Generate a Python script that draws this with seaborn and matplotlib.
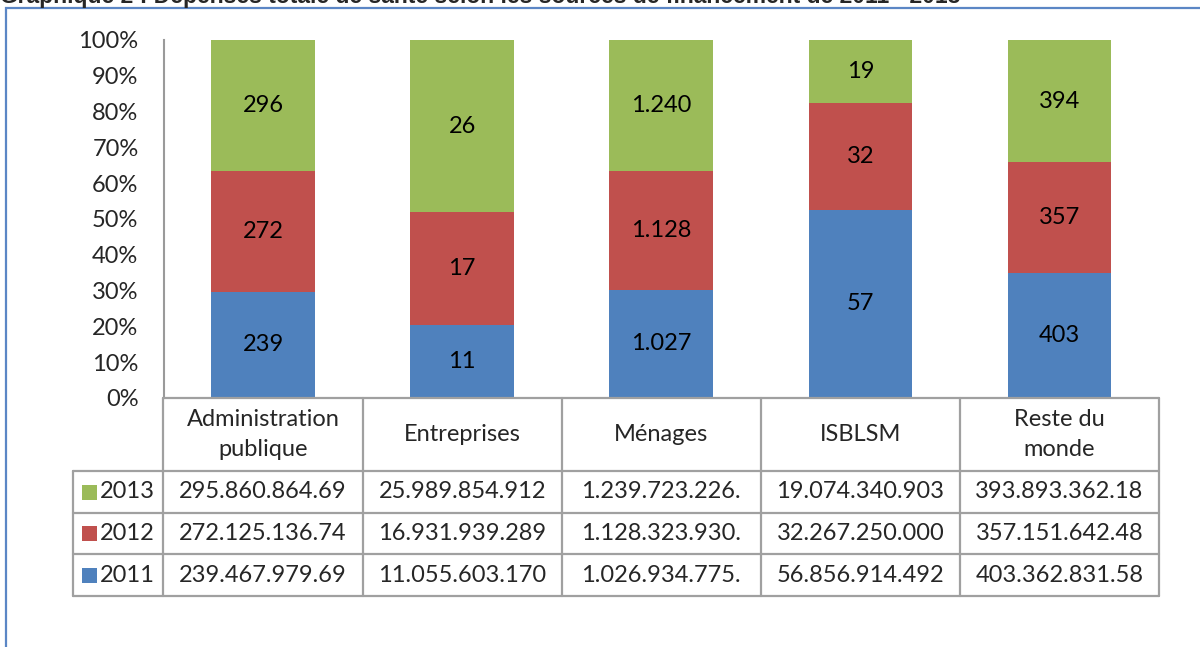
import pandas as pd
import seaborn as sns
import matplotlib.pyplot as plt
from matplotlib.patches import Rectangle

# Sources of financing (table header) and the three years
categories = ['Administration\npublique', 'Entreprises', 'Ménages', 'ISBLSM', 'Reste du\nmonde']
bar_labels_2011 = ['239', '11', '1.027', '57', '403']
bar_labels_2012 = ['272', '17', '1.128', '32', '357']
bar_labels_2013 = ['296', '26', '1.240', '19', '394']

# Values (leading groups of the table figures)
values_2011 = [239.468, 11.056, 1026.935, 56.857, 403.363]
values_2012 = [272.125, 16.932, 1128.324, 32.267, 357.152]
values_2013 = [295.861, 25.990, 1239.723, 19.074, 393.893]

# Data table texts as printed
table_2013 = ['295.860.864.69', '25.989.854.912', '1.239.723.226.', '19.074.340.903', '393.893.362.18']
table_2012 = ['272.125.136.74', '16.931.939.289', '1.128.323.930.', '32.267.250.000', '357.151.642.48']
table_2011 = ['239.467.979.69', '11.055.603.170', '1.026.934.775.', '56.856.914.492', '403.362.831.58']

colors = {'2011': '#4F81BD', '2012': '#C0504D', '2013': '#9BBB59'}

df = pd.DataFrame({'cat': categories, '2011': values_2011, '2012': values_2012, '2013': values_2013})
total = df[['2011', '2012', '2013']].sum(axis=1)
df['p2011'] = df['2011'] / total * 100
df['p2012'] = df['2012'] / total * 100
df['p2013'] = df['2013'] / total * 100
df['c2011'] = df['p2011']
df['c2012'] = df['p2011'] + df['p2012']
df['c2013'] = df['c2012'] + df['p2013']

sns.set_theme(style='white')
plt.rcParams['font.family'] = ['Lato', 'DejaVu Sans']
FS = 17

W, H = 1200, 647
fig = plt.figure(figsize=(W / 100, H / 100), dpi=100)

# outer frame and title (cut off at the top edge, as in the source)
fig.patches.append(Rectangle((6 / W, -0.1), 1.2, 1 - 8 / H + 0.1, transform=fig.transFigure,
                             fill=False, edgecolor='#5B86C5', linewidth=1.6))
fig.text(0.0, 1 - 3.5 / H, 'Graphique 2 : Dépenses totale de santé selon les sources de financement de 2011 - 2013',
         fontsize=16.5, fontweight='bold', family='Liberation Sans', va='baseline', ha='left')

ax_left, ax_right, ax_top, ax_bot = 163.5, 1159, 40, 398
ax = fig.add_axes([ax_left / W, 1 - ax_bot / H, (ax_right - ax_left) / W, (ax_bot - ax_top) / H])

# stacked bars: draw cumulative heights from the top down
for yr in ['2013', '2012', '2011']:
    sns.barplot(data=df, x='cat', y='c' + yr, color=colors[yr], saturation=1, width=0.52,
                linewidth=0, ax=ax)

labels = {'2011': bar_labels_2011, '2012': bar_labels_2012, '2013': bar_labels_2013}
for i in range(len(categories)):
    bottom = 0
    for yr in ['2011', '2012', '2013']:
        h = df.loc[i, 'p' + yr]
        ax.text(i, bottom + h / 2, labels[yr][i], ha='center', va='center', fontsize=FS, color='black')
        bottom += h

ax.set_xlim(-0.5, len(categories) - 0.5)
ax.set_ylim(0, 100)
ax.set_yticks(range(0, 101, 10))
ax.set_yticklabels([f'{t}%' for t in range(0, 101, 10)], fontsize=FS)
ax.set_xticks([])
ax.set_xlabel('')
ax.set_ylabel('')
ax.tick_params(axis='y', length=0, pad=18)
for s in ['top', 'right', 'bottom']:
    ax.spines[s].set_visible(False)
ax.spines['left'].set_color('#9A9A9A')
ax.spines['left'].set_linewidth(1.5)

# data table below the plot
tb_left, tb_top, tb_bot = 73, 398, 596
cat_w = (ax_right - ax_left) / len(categories)
leg_w = (ax_left - tb_left) / cat_w
tax = fig.add_axes([tb_left / W, 1 - tb_bot / H, (ax_right - tb_left) / W, (tb_bot - tb_top) / H])
tax.set_xlim(-0.5 - leg_w, len(categories) - 0.5)
tax.set_ylim(tb_bot - tb_top, 0)
tax.axis('off')

lc, lw = '#A0A0A0', 1.6
xl, xr = -0.5 - leg_w, len(categories) - 0.5
row_y = [0, 73, 115, 156, 198]
tax.plot([-0.5, xr], [0, 0], color=lc, lw=lw, clip_on=False)
for y in row_y[1:]:
    tax.plot([xl, xr], [y, y], color=lc, lw=lw, clip_on=False)
tax.plot([xl, xl], [73, 198], color=lc, lw=lw, clip_on=False)
for i in range(len(categories) + 1):
    tax.plot([i - 0.5, i - 0.5], [0, 198], color=lc, lw=lw, clip_on=False)

for i, c in enumerate(categories):
    tax.text(i, 36.5, c, ha='center', va='center', fontsize=FS, linespacing=1.5)

rows = [('2013', table_2013), ('2012', table_2012), ('2011', table_2011)]
px = 1 / cat_w
for r, (yr, texts) in enumerate(rows):
    yc = (row_y[r + 1] + row_y[r + 2]) / 2
    tax.add_patch(Rectangle((xl + 9 * px, yc - 7.5), 15 * px, 15, color=colors[yr], lw=0))
    tax.text(xl + 27 * px, yc, yr, ha='left', va='center', fontsize=FS)
    for i, t in enumerate(texts):
        tax.text(i, yc, t, ha='center', va='center', fontsize=FS)

fig.savefig('out.png', dpi=100)
